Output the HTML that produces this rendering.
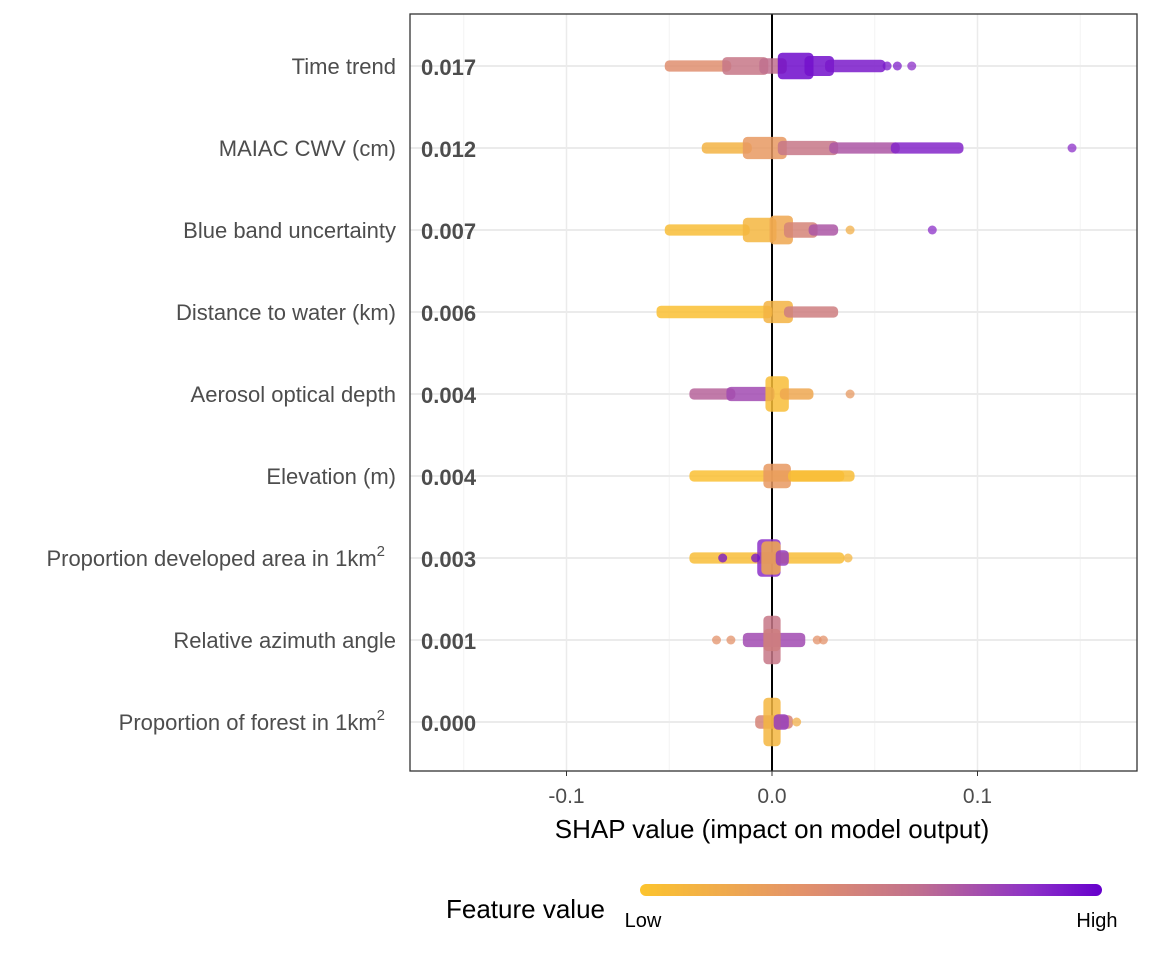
<!DOCTYPE html>
<html><head><meta charset="utf-8"><style>
body{margin:0;background:#fff;}
svg text{font-family:"Liberation Sans",Arial,sans-serif;}
</style></head><body>
<svg id="chart" width="1152" height="960" viewBox="0 0 1152 960">
<defs><linearGradient id="lg" x1="0" x2="1" y1="0" y2="0">
<stop offset="0" stop-color="#FCC42E"/><stop offset="0.35" stop-color="#E3926A"/><stop offset="0.6" stop-color="#C0708E"/><stop offset="0.85" stop-color="#8C30C8"/><stop offset="1" stop-color="#6600CC"/></linearGradient></defs>
<g id="grid"></g><g id="marks"></g><g id="axes"></g>
<text x="772" y="838" font-size="26" text-anchor="middle" fill="#000">SHAP value (impact on model output)</text>
<text x="446" y="918" font-size="26" fill="#000">Feature value</text>
<rect x="640" y="884" width="462" height="12" rx="6" fill="url(#lg)"/>
<text x="643" y="927" font-size="20" text-anchor="middle" fill="#000">Low</text>
<text x="1097" y="927" font-size="20" text-anchor="middle" fill="#000">High</text>
</svg>
<script>
const features=["Time trend","MAIAC CWV (cm)","Blue band uncertainty","Distance to water (km)","Aerosol optical depth","Elevation (m)","Proportion developed area in 1km","Relative azimuth angle","Proportion of forest in 1km"];
const superscript=[false,false,false,false,false,false,true,false,true];
const importance=["0.017","0.012","0.007","0.006","0.004","0.004","0.003","0.001","0.000"];
const xTicks=[-0.1,0.0,0.1];
const xTickLabels=["-0.1","0.0","0.1"];
// segments: feature index, shap lo, shap hi, feature value (0-1), density (0-1)
const segFeature=[0,0,0,0,0,0, 1,1,1,1,1, 2,2,2,2,2, 3,3,3, 4,4,4,4, 5,5,5, 6,6,6,6, 7,7,7, 8,8,8];
const segLo=  [-0.050,-0.022,-0.004,0.005,0.018,0.028, -0.032,-0.012,0.005,0.030,0.060, -0.050,-0.012,0.001,0.008,0.020, -0.054,-0.002,0.008, -0.038,-0.020,-0.001,0.006, -0.038,-0.002,0.010, -0.038,-0.005,-0.003,0.004, -0.012,-0.002,-0.002, -0.006,-0.002,0.003];
const segHi=  [-0.022,-0.004,0.005,0.018,0.028,0.053, -0.012,0.005,0.030,0.060,0.091, -0.013,0.000,0.008,0.020,0.030, -0.002,0.008,0.030, -0.020,-0.001,0.006,0.018, 0.033,0.007,0.038, 0.033,0.002,0.002,0.006, 0.014,0.002,0.002, 0.008,0.002,0.006];
const segValue=[0.38,0.55,0.6,0.97,0.95,0.92, 0.12,0.3,0.55,0.7,0.88, 0.05,0.1,0.2,0.45,0.7, 0.03,0.12,0.5, 0.65,0.75,0.05,0.2, 0.03,0.3,0.05, 0.05,0.85,0.2,0.8, 0.75,0.55,0.5, 0.45,0.1,0.8];
const segDensity=[0.05,0.2,0.15,0.4,0.25,0.08, 0.05,0.3,0.12,0.05,0.05, 0.05,0.35,0.45,0.15,0.05, 0.08,0.3,0.05, 0.05,0.12,0.6,0.05, 0.05,0.35,0.05, 0.05,0.65,0.55,0.15, 0.12,0.9,0.3, 0.1,0.9,0.15];
const outFeature=[0,0,0,1,2,2,4,6,6,6,7,7,7,7,8];
const outShap=[0.056,0.061,0.068,0.146,0.038,0.078,0.038,0.037,-0.024,-0.008,-0.027,-0.020,0.022,0.025,0.012];
const outValue=[0.92,0.9,0.85,0.85,0.15,0.85,0.3,0.1,0.95,0.95,0.35,0.35,0.35,0.35,0.15];

const X0=772, PX=2055;
const xs=v=>X0+v*PX;
const ys=i=>66+i*82.0;
const stops=[[0,[252,196,46]],[0.35,[227,146,106]],[0.6,[192,112,142]],[0.85,[140,48,200]],[1,[102,0,204]]];
function col(t){for(let i=1;i<stops.length;i++){if(t<=stops[i][0]){const a=stops[i-1],b=stops[i];const f=(t-a[0])/(b[0]-a[0]);const c=a[1].map((v,k)=>Math.round(v+(b[1][k]-v)*f));return `rgb(${c})`;}}return 'rgb(102,0,204)';}
const NS="http://www.w3.org/2000/svg";
function mk(tag,at,parent){const e=document.createElementNS(NS,tag);for(const k in at)e.setAttribute(k,at[k]);parent.appendChild(e);return e;}
const grid=document.getElementById('grid'),marks=document.getElementById('marks'),axes=document.getElementById('axes'),svg=document.getElementById('chart');
mk('rect',{x:410,y:14,width:727,height:757,fill:'#fff'},grid);
[-0.15,-0.05,0.05,0.15].forEach(v=>{const l=mk('line',{x1:xs(v),x2:xs(v),y1:14,y2:771,stroke:'#f3f3f3','stroke-width':1},grid);

});
xTicks.forEach(v=>{const l=mk('line',{x1:xs(v),x2:xs(v),y1:14,y2:771,stroke:'#ebebeb','stroke-width':1.5},grid);

});
features.forEach((f,i)=>{const l=mk('line',{x1:410,x2:1137,y1:ys(i),y2:ys(i),stroke:'#ebebeb','stroke-width':2},grid);


const t=mk('text',{x:396,y:ys(i)+8,'font-size':22,'text-anchor':'end',fill:'#4d4d4d'},axes);
t.textContent=f;
if(superscript[i]){t.setAttribute('x',385);const s=mk('tspan',{dy:-10,'font-size':15},t);s.textContent='2';}


const m=mk('text',{x:421,y:ys(i)+9,'font-size':22,'font-weight':'bold',fill:'#4d4d4d'},axes);
m.textContent=importance[i];

});
mk('line',{x1:X0,x2:X0,y1:14,y2:771,stroke:'#000','stroke-width':2},grid);
segFeature.forEach((fi,k)=>{const x1=xs(segLo[k]),x2=xs(segHi[k]);const h=segDensity[k]*22;
const r=mk('rect',{x:x1-4.5,y:ys(fi)-h-4.5,width:x2-x1+9,height:2*h+9,rx:4.5,fill:col(segValue[k]),'fill-opacity':0.85},marks);

});
outFeature.forEach((fi,k)=>{const c=mk('circle',{cx:xs(outShap[k]),cy:ys(fi),r:4.5,fill:col(outValue[k]),'fill-opacity':0.75},marks);

});
mk('rect',{x:410,y:14,width:727,height:757,fill:'none',stroke:'#333','stroke-width':1.3},axes);
xTicks.forEach((v,i)=>{mk('line',{x1:xs(v),x2:xs(v),y1:771,y2:776,stroke:'#333'},axes);
const t=mk('text',{x:xs(v),y:803,'font-size':21,'text-anchor':'middle',fill:'#4d4d4d'},axes);
t.textContent=xTickLabels[i];

});
</script>
</body></html>
